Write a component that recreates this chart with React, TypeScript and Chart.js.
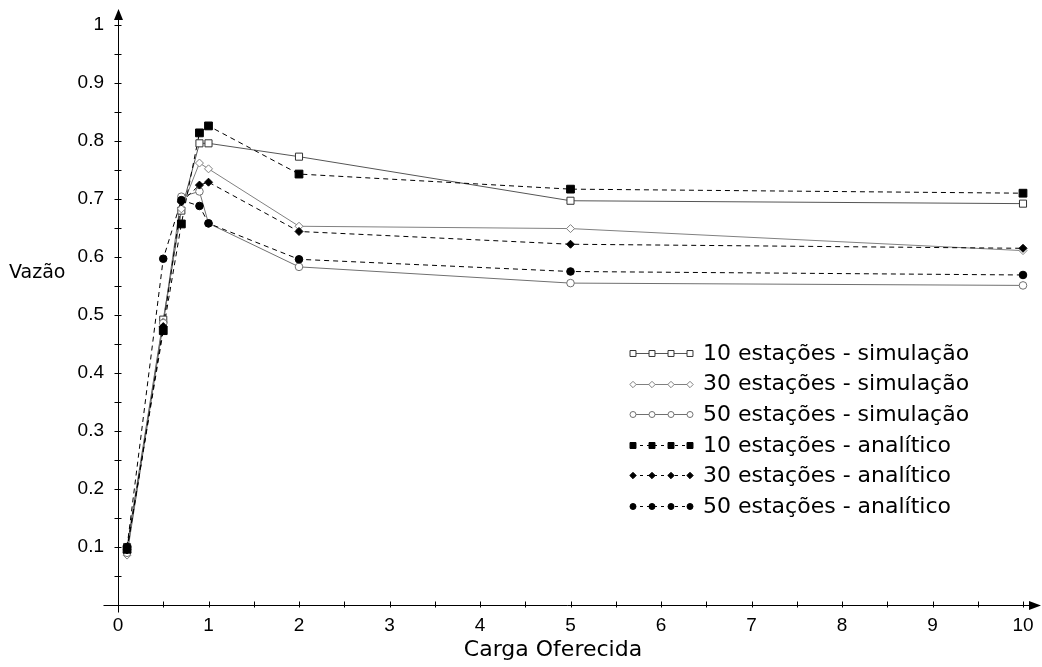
import React, { useEffect, useRef } from "react";
import { Chart, registerables } from "chart.js";
Chart.register(...registerables);

// ---- data ----
const loads = [0.1, 0.5, 0.7, 0.9, 1, 2, 5, 10];
const sim10 = [0.100, 0.492, 0.680, 0.796, 0.796, 0.773, 0.697, 0.692];
const sim30 = [0.086, 0.488, 0.683, 0.762, 0.752, 0.653, 0.649, 0.611];
const sim50 = [0.090, 0.486, 0.704, 0.713, 0.658, 0.583, 0.555, 0.551];
const ana10 = [0.096, 0.473, 0.657, 0.814, 0.826, 0.743, 0.717, 0.710];
const ana30 = [0.095, 0.480, 0.695, 0.724, 0.729, 0.644, 0.622, 0.615];
const ana50 = [0.100, 0.597, 0.698, 0.688, 0.658, 0.596, 0.575, 0.569];

const seriesLabels = [
  "10 estações - simulação",
  "30 estações - simulação",
  "50 estações - simulação",
  "10 estações - analítico",
  "30 estações - analítico",
  "50 estações - analítico",
];
const xTitle = "Carga Oferecida";
const yTitle = "Vazão";

const TICK_FONT = "'Liberation Sans', Arial, sans-serif";
const TEXT_FONT = "'DejaVu Sans', sans-serif";

type Style = {
  line: string;
  dash: number[];
  shape: "rect" | "rectRot" | "circle";
  fill: string;
  edge: string;
  r: number;
  lr: number;
};

const styles: Style[] = [
  { line: "#555555", dash: [], shape: "rect", fill: "#ffffff", edge: "#333333", r: 5, lr: 4.2 },
  { line: "#808080", dash: [], shape: "rectRot", fill: "#ffffff", edge: "#808080", r: 4, lr: 3.2 },
  { line: "#707070", dash: [], shape: "circle", fill: "#ffffff", edge: "#707070", r: 3.8, lr: 3 },
  { line: "#000000", dash: [5, 4], shape: "rect", fill: "#000000", edge: "#000000", r: 5.5, lr: 4.2 },
  { line: "#000000", dash: [5, 4], shape: "rectRot", fill: "#000000", edge: "#000000", r: 4, lr: 3.2 },
  { line: "#000000", dash: [5, 4], shape: "circle", fill: "#000000", edge: "#000000", r: 3.8, lr: 3 },
];

const allSeries = [sim10, sim30, sim50, ana10, ana30, ana50];

function drawMarker(ctx: CanvasRenderingContext2D, s: Style, x: number, y: number, r: number) {
  ctx.save();
  ctx.setLineDash([]);
  ctx.fillStyle = s.fill;
  ctx.strokeStyle = s.edge;
  ctx.lineWidth = 1;
  ctx.beginPath();
  if (s.shape === "rect") {
    const h = r * Math.SQRT1_2;
    ctx.rect(x - h, y - h, 2 * h, 2 * h);
  } else if (s.shape === "rectRot") {
    ctx.moveTo(x, y - r);
    ctx.lineTo(x + r, y);
    ctx.lineTo(x, y + r);
    ctx.lineTo(x - r, y);
    ctx.closePath();
  } else {
    ctx.arc(x, y, r, 0, Math.PI * 2);
  }
  ctx.fill();
  ctx.stroke();
  ctx.restore();
}

const decorPlugin = {
  id: "decor",
  afterDraw(chart: any) {
    const ctx: CanvasRenderingContext2D = chart.ctx;
    const xs = chart.scales.x;
    const ys = chart.scales.y;
    const x0 = Math.round(xs.getPixelForValue(0)) + 0.5;
    const y0 = Math.round(ys.getPixelForValue(0)) + 0.5;
    const xEnd = xs.getPixelForValue(10);
    const yTop = ys.getPixelForValue(1);
    ctx.save();
    ctx.strokeStyle = "#000";
    ctx.fillStyle = "#000";
    ctx.lineWidth = 1;
    ctx.setLineDash([]);
    // axis lines
    ctx.beginPath();
    ctx.moveTo(x0 - 15, y0);
    ctx.lineTo(xEnd + 8, y0);
    ctx.moveTo(x0, y0 + 7);
    ctx.lineTo(x0, yTop - 8);
    ctx.stroke();
    // arrows
    ctx.beginPath();
    ctx.moveTo(xEnd + 18, y0);
    ctx.lineTo(xEnd + 6, y0 - 4.5);
    ctx.lineTo(xEnd + 6, y0 + 4.5);
    ctx.closePath();
    ctx.fill();
    ctx.beginPath();
    ctx.moveTo(x0, yTop - 16);
    ctx.lineTo(x0 - 4.5, yTop - 5);
    ctx.lineTo(x0 + 4.5, yTop - 5);
    ctx.closePath();
    ctx.fill();
    // tick marks
    ctx.beginPath();
    xs.ticks.forEach((t: any) => {
      if (t.value === 0) return;
      const px = Math.round(xs.getPixelForValue(t.value)) + 0.5;
      ctx.moveTo(px, y0 - 4);
      ctx.lineTo(px, y0 + 2);
    });
    ys.ticks.forEach((t: any) => {
      if (t.value === 0) return;
      const py = Math.round(ys.getPixelForValue(t.value)) + 0.5;
      ctx.moveTo(x0 - 4, py);
      ctx.lineTo(x0 + 3, py);
    });
    ctx.stroke();

    // titles
    ctx.font = "19px " + TEXT_FONT;
    ctx.textAlign = "left";
    ctx.textBaseline = "middle";
    ctx.fillText(yTitle, 9, 273);
    ctx.font = "22px " + TEXT_FONT;
    ctx.textAlign = "center";
    ctx.textBaseline = "alphabetic";
    ctx.fillText(xTitle, 553, 656);

    // legend
    const lx = [633, 652, 671, 690];
    seriesLabels.forEach((label, i) => {
      const s = styles[i];
      const ry = 353 + i * 30.6;
      const yy = Math.round(ry) + 0.5;
      ctx.save();
      ctx.strokeStyle = s.line;
      ctx.setLineDash(s.dash.length ? [3, 4] : []);
      ctx.beginPath();
      ctx.moveTo(lx[0], yy);
      ctx.lineTo(lx[3], yy);
      ctx.stroke();
      ctx.restore();
      lx.forEach((mx) => drawMarker(ctx, s, mx, yy, s.lr));
      ctx.fillStyle = "#000";
      ctx.font = "22px " + TEXT_FONT;
      ctx.textAlign = "left";
      ctx.textBaseline = "middle";
      ctx.fillText(label, 703, ry + 1);
    });
    ctx.restore();
  },
};

const markerPlugin = {
  id: "markers",
  afterDatasetsDraw(chart: any) {
    const ctx: CanvasRenderingContext2D = chart.ctx;
    chart.data.datasets.forEach((ds: any, i: number) => {
      const meta = chart.getDatasetMeta(i);
      meta.data.forEach((pt: any) => {
        drawMarker(ctx, styles[i], pt.x, pt.y, styles[i].r);
      });
    });
  },
};

export default function App() {
  const ref = useRef<HTMLCanvasElement | null>(null);
  useEffect(() => {
    document.body.style.margin = "0";
    if (!ref.current) return;
    const datasets = allSeries.map((vals, i) => ({
      label: seriesLabels[i],
      data: loads.map((x, j) => ({ x, y: vals[j] })),
      borderColor: styles[i].line,
      borderWidth: 1,
      borderDash: styles[i].dash,
      pointRadius: 0,
      pointHoverRadius: 0,
      fill: false,
      tension: 0,
      order: 6 - i,
    }));
    const chart = new Chart(ref.current, {
      type: "line",
      data: { datasets },
      options: {
        animation: false,
        responsive: true,
        maintainAspectRatio: false,
        layout: { padding: { top: 25, right: 19, left: 0, bottom: 0 } },
        plugins: { legend: { display: false }, tooltip: { enabled: false } },
        scales: {
          x: {
            type: "linear",
            min: 0,
            max: 10,
            grid: { display: false },
            border: { display: false },
            afterFit: (s: any) => {
              s.height = 62;
            },
            ticks: {
              stepSize: 0.5,
              autoSkip: false,
              maxRotation: 0,
              padding: 1,
              color: "#000",
              font: { family: TICK_FONT, size: 19 },
              callback: (v: any) => {
                const n = Number(v);
                return Math.abs(n - Math.round(n)) < 1e-6 ? String(Math.round(n)) : "";
              },
            },
          },
          y: {
            type: "linear",
            min: 0,
            max: 1,
            grid: { display: false },
            border: { display: false },
            afterFit: (s: any) => {
              s.width = 118;
            },
            ticks: {
              stepSize: 0.05,
              autoSkip: false,
              padding: 6,
              color: "#000",
              font: { family: TICK_FONT, size: 19 },
              callback: (v: any) => {
                const n = Number(v);
                const t = n * 10;
                if (n === 0) return "";
                return Math.abs(t - Math.round(t)) < 1e-6 ? String(Math.round(t) / 10) : "";
              },
            },
          },
        },
      },
      plugins: [markerPlugin, decorPlugin],
    });
    return () => chart.destroy();
  }, []);
  return (
    <div style={{ width: 1042, height: 667, position: "relative", background: "#fff" }}>
      <canvas ref={ref} />
    </div>
  );
}
